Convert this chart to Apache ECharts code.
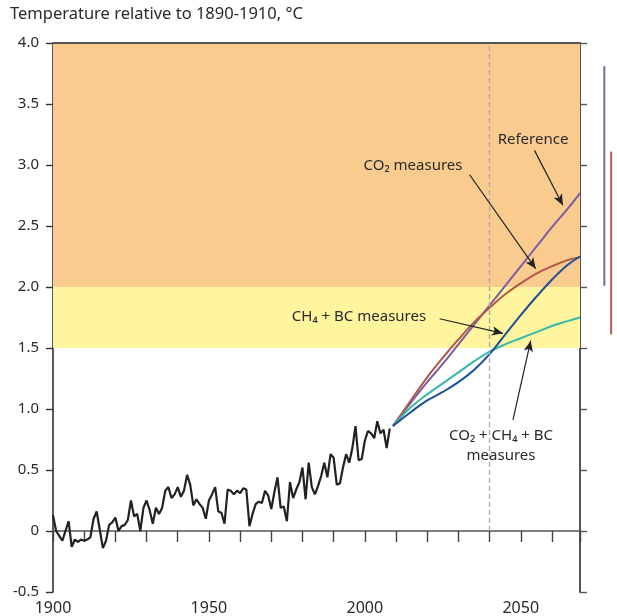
<!DOCTYPE html>
<html>
<head>
<meta charset="utf-8">
<script src="https://cdn.jsdelivr.net/npm/echarts@6/dist/echarts.min.js"></script>
<style>
html,body{margin:0;padding:0;background:#fff;}
#chart{width:617px;height:616px;}
</style>
</head>
<body>
<div id="chart"></div>
<script>
// ---- data ----
const histStartYear = 1900;
const histValues = [
  0.13,0.00,-0.04,-0.08,0.00,0.08,-0.13,-0.07,-0.09,-0.07,
  -0.08,-0.07,-0.05,0.10,0.16,0.01,-0.14,-0.08,0.05,0.07,
  0.11,0.00,0.04,0.05,0.09,0.25,0.12,0.14,0.00,0.19,
  0.25,0.17,0.06,0.19,0.14,0.19,0.33,0.36,0.27,0.30,
  0.36,0.28,0.33,0.46,0.38,0.21,0.26,0.22,0.19,0.10,
  0.25,0.30,0.36,0.16,0.15,0.06,0.34,0.33,0.30,0.33,
  0.31,0.35,0.34,0.04,0.14,0.22,0.24,0.23,0.33,0.29,
  0.18,0.32,0.44,0.19,0.20,0.08,0.40,0.27,0.34,0.40,
  0.52,0.26,0.56,0.36,0.30,0.37,0.45,0.56,0.44,0.63,
  0.60,0.38,0.39,0.52,0.63,0.56,0.68,0.86,0.58,0.59,
  0.74,0.82,0.80,0.76,0.90,0.80,0.83,0.68,0.84
];
const projYears      = [2009, 2015, 2020, 2025, 2030, 2035, 2040, 2045, 2050, 2055, 2060, 2065, 2069];
const referenceVals  = [0.86, 1.06, 1.22, 1.37, 1.53, 1.69, 1.85, 2.01, 2.17, 2.33, 2.49, 2.64, 2.77];
const co2Vals        = [0.86, 1.08, 1.26, 1.42, 1.57, 1.71, 1.83, 1.94, 2.03, 2.11, 2.17, 2.22, 2.245];
const ch4bcVals      = [0.86, 0.98, 1.07, 1.14, 1.22, 1.32, 1.45, 1.61, 1.77, 1.92, 2.06, 2.18, 2.25];
const allVals        = [0.86, 1.02, 1.12, 1.21, 1.30, 1.39, 1.47, 1.53, 1.58, 1.63, 1.68, 1.72, 1.75];
// uncertainty ranges around 2070 (low, high)
const referenceRange = [2.01, 3.81];
const co2Range       = [1.61, 3.11];
const rangeX         = [2076.8, 2079.0];
const bandOrange     = [2.0, 4.0];
const bandYellow     = [1.5, 2.0];
const markYear       = 2040;
const xLabelYears    = [1900, 1950, 2000, 2050];

// ---- build ----
const histData = histValues.map((v, i) => [histStartYear + i, v]);
const pair = (ys, vs) => ys.map((y, i) => [y, vs[i]]);
const FONT = 'Noto Sans';
const TXT = '#2a2a2a';

const chart = echarts.init(document.getElementById('chart'), null, {renderer: 'canvas'});

const arrowLine = (a, b) => [{coord: a}, {coord: b}];
const label = (text, x, y) => ({
  type: 'text', x: x, y: y, z: 100, zlevel: 0,
  style: {text: text, fontFamily: FONT, fontSize: 15, fill: TXT, align: 'center', verticalAlign: 'middle'}
});

chart.setOption({
  animation: false,
  backgroundColor: '#fff',
  grid: {left: 53, right: 37, top: 43, bottom: 21, containLabel: false},
  xAxis: [
    {
      type: 'value', min: 1900, max: 2069, interval: 10,
      axisLine: {show: true, onZero: true, lineStyle: {color: '#555', width: 1.6}},
      axisTick: {show: true, length: 11, inside: false, lineStyle: {color: '#444', width: 1.4}},
      axisLabel: {show: false},
      splitLine: {show: false}
    },
    {
      type: 'value', min: 1900, max: 2069, interval: 50, position: 'bottom',
      axisLine: {show: false, onZero: false},
      axisTick: {show: false},
      splitLine: {show: false},
      axisLabel: {
        show: true, margin: 8, fontFamily: FONT, fontSize: 16, color: TXT,
        showMaxLabel: false,
        formatter: v => (xLabelYears.indexOf(v) >= 0 ? String(v) : '')
      }
    }
  ],
  yAxis: [
    {
      type: 'value', min: -0.5, max: 4.0, interval: 0.5, position: 'left',
      axisLine: {show: true, onZero: false, lineStyle: {color: '#333', width: 1.6}},
      axisTick: {show: true, length: 7, lineStyle: {color: '#333', width: 1.4}},
      splitLine: {show: false},
      axisLabel: {
        margin: 14, fontFamily: FONT, fontSize: 15, color: TXT,
        formatter: v => (Math.abs(v) < 1e-9 ? '0' : v.toFixed(1))
      }
    },
    {
      type: 'value', min: -0.5, max: 4.0, interval: 0.5, position: 'right',
      axisLine: {show: true, onZero: false, lineStyle: {color: '#555', width: 2}},
      axisTick: {show: true, length: 7, lineStyle: {color: '#555', width: 1.4}},
      splitLine: {show: false},
      axisLabel: {show: false}
    }
  ],
  series: [
    {
      name: 'bands', type: 'line', data: [], z: 0,
      markArea: {
        silent: true,
        data: [
          [{yAxis: bandOrange[0], itemStyle: {color: '#f9cb8e'}}, {yAxis: bandOrange[1]}],
          [{yAxis: bandYellow[0], itemStyle: {color: '#fff59e'}}, {yAxis: bandYellow[1]}]
        ]
      }
    },
    {
      name: 'guides', type: 'line', data: [], z: 1,
      markLine: {
        silent: true, symbol: ['none', 'none'], label: {show: false},
        data: [
          [{coord: [markYear, 0], lineStyle: {color: '#aaaaaa', width: 1.3, type: [5, 3]}}, {coord: [markYear, 4.0]}],
          [{coord: [1900, 4.0], lineStyle: {color: '#555', width: 1.8, type: 'solid'}}, {coord: [2069, 4.0]}]
        ]
      }
    },
    {
      name: 'Observed', type: 'line', data: histData, showSymbol: false, symbol: 'none', z: 5,
      lineStyle: {color: '#222', width: 2.2}
    },
    {
      name: 'Reference', type: 'line', data: pair(projYears, referenceVals), smooth: 0.4, showSymbol: false, symbol: 'none', z: 4,
      lineStyle: {color: '#7b5ea3', width: 2}
    },
    {
      name: 'CO2 measures', type: 'line', data: pair(projYears, co2Vals), smooth: 0.4, showSymbol: false, symbol: 'none', z: 4,
      lineStyle: {color: '#b2584a', width: 2}
    },
    {
      name: 'CO2 + CH4 + BC measures', type: 'line', data: pair(projYears, allVals), smooth: 0.4, showSymbol: false, symbol: 'none', z: 4,
      lineStyle: {color: '#36b8ac', width: 2}
    },
    {
      name: 'CH4 + BC measures', type: 'line', data: pair(projYears, ch4bcVals), smooth: 0.4, showSymbol: false, symbol: 'none', z: 4,
      lineStyle: {color: '#1b4f98', width: 2}
    },
    {
      name: 'arrows', type: 'line', data: [], z: 6,
      markLine: {
        silent: true, symbol: ['none', 'arrow'], symbolSize: [7, 11], label: {show: false},
        lineStyle: {color: '#222', width: 1.2, type: 'solid'},
        data: [
          arrowLine([2054.4, 3.12], [2063.5, 2.67]),
          arrowLine([2033.6, 2.92], [2054.8, 2.15]),
          arrowLine([2024.0, 1.74], [2044.3, 1.62]),
          arrowLine([2047.5, 0.91], [2053.2, 1.56])
        ]
      }
    }
  ]
});

// range bars to the right of the plot, placed through the axes' scales
const px = (x, y) => chart.convertToPixel({xAxisIndex: 0, yAxisIndex: 0}, [x, y]);
const rangeBar = (x, r, color) => {
  const a = px(x, r[0]), b = px(x, r[1]);
  return {type: 'line', z: 100, shape: {x1: a[0], y1: a[1], x2: b[0], y2: b[1]}, style: {stroke: color, lineWidth: 2}};
};

chart.setOption({
  graphic: [
    {type: 'text', left: 10, top: 6, z: 100, style: {text: 'Temperature relative to 1890-1910, °C', fontFamily: FONT, fontSize: 16.5, fill: TXT}},
    label('Reference', 533, 140),
    label('CO\u2082 measures', 413, 166),
    label('CH\u2084 + BC measures', 359, 317),
    label('CO\u2082 + CH\u2084 + BC', 501, 436),
    label('measures', 501, 456),
    rangeBar(rangeX[0], referenceRange, '#7e68a8'),
    rangeBar(rangeX[1], co2Range, '#b65a5e')
  ]
});
</script>
</body>
</html>
